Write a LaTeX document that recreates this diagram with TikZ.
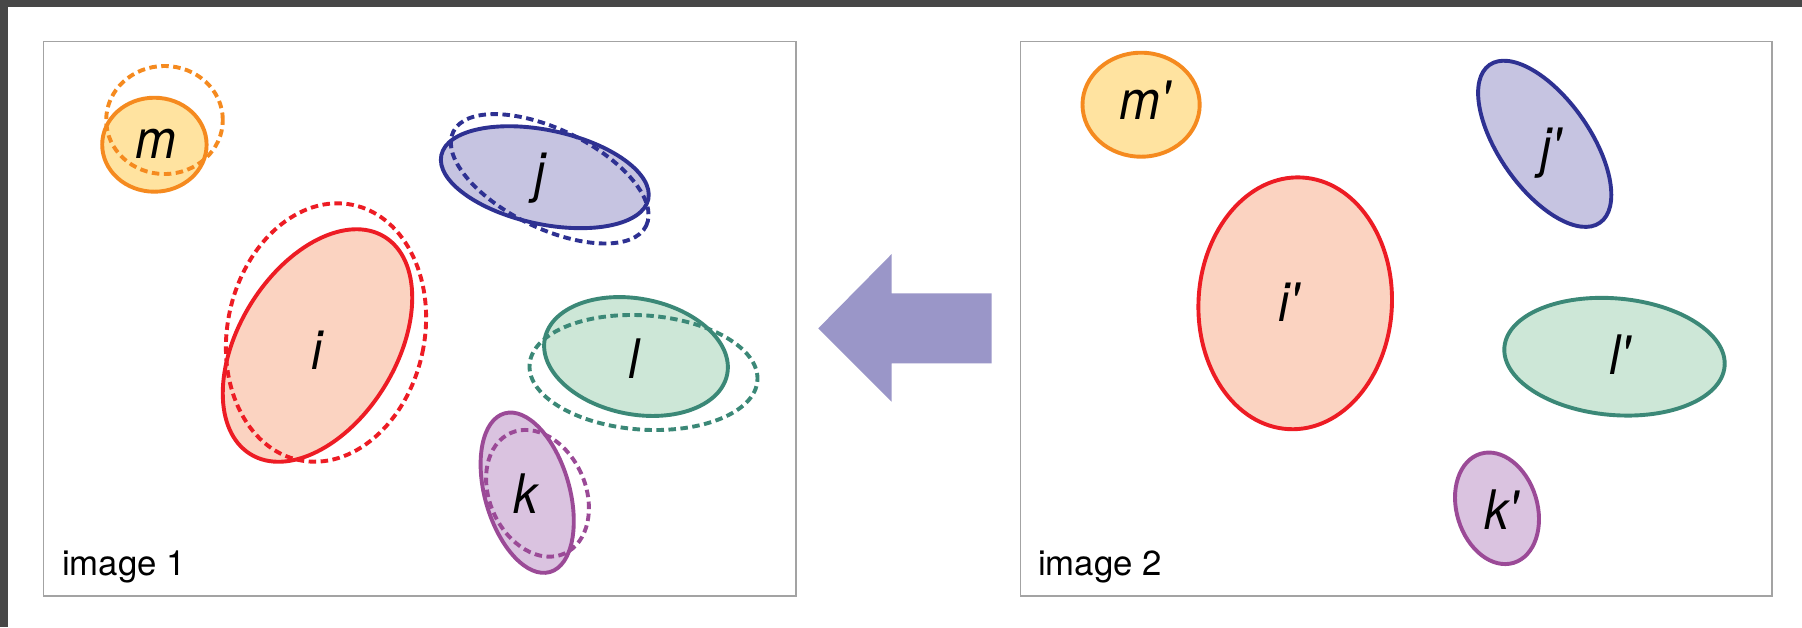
\documentclass[tikz,border=0pt]{standalone}
\usepackage{fontspec}
\setsansfont{TeX Gyre Heros}
\newfontfamily\labfont{TeX Gyre Heros}[FakeStretch=0.9]
\newcommand{\pr}{\XeTeXglyph\XeTeXglyphindex"quotesingle" }
\definecolor{framegray}{HTML}{474747}
\definecolor{panelgray}{HTML}{A3A3A3}
\definecolor{arrowfill}{HTML}{9A96C8}
\definecolor{mline}{HTML}{F58A1F}
\definecolor{mfill}{HTML}{FFE3A0}
\definecolor{jline}{HTML}{2E3192}
\definecolor{jfill}{HTML}{C6C4E1}
\definecolor{iline}{HTML}{ED1C24}
\definecolor{ifill}{HTML}{FBD3C1}
\definecolor{lline}{HTML}{3B8877}
\definecolor{lfill}{HTML}{CDE7D7}
\definecolor{kline}{HTML}{9B4A97}
\definecolor{kfill}{HTML}{DAC3E0}
\begin{document}
\begin{tikzpicture}[x=0.02cm,y=0.02cm,
  panel/.style={draw=panelgray, line width=0.03cm, fill=white},
  ring/.style={line width=0.078cm},
  dashring/.style={line width=0.078cm, dash pattern=on 0.15cm off 0.09cm},
  lab/.style={inner sep=0pt, font=\labfont\fontsize{31}{31}\selectfont\itshape},
  caption/.style={inner sep=0pt, anchor=base west, font=\sffamily\fontsize{19.8}{20}\selectfont}]
% canvas and dark frame
\fill[framegray] (0,0) rectangle (1802,-627);
\fill[white] (8.3,-6.7) rectangle (1802,-627);
\useasboundingbox (0,0) rectangle (1802,-627);

% panels
\draw[panel] (43.5,-41.7) rectangle (796,-596);
\draw[panel] (1020.6,-41.7) rectangle (1772,-596);

% transfer arrow
\fill[arrowfill] (818.3,-328.3) -- (891.7,-254) -- (891.7,-293.3) -- (991.7,-293.3)
  -- (991.7,-363.3) -- (891.7,-363.3) -- (891.7,-401.7) -- cycle;

% image 1: regions
\filldraw[ring, draw=mline, fill=mfill] (154.4,-144.7) ellipse [x radius=52.2, y radius=47];
\draw[dashring, mline] (164.5,-120) ellipse [x radius=58.3, y radius=54];

\filldraw[ring, draw=jline, fill=jfill, rotate around={-12:(544.8,-177.2)}] (544.8,-177.2) ellipse [x radius=105.8, y radius=47];
\draw[dashring, jline, rotate around={-26:(549.7,-178.8)}] (549.7,-178.8) ellipse [x radius=107.3, y radius=49.4];

\filldraw[ring, draw=iline, fill=ifill, rotate around={-31.7:(317.5,-345.5)}] (317.5,-345.5) ellipse [x radius=78.6, y radius=127.7];
\draw[dashring, iline, rotate around={-12:(326,-332.5)}] (326,-332.5) ellipse [x radius=98.5, y radius=130.4];

\filldraw[ring, draw=lline, fill=lfill, rotate around={-11:(636,-356.5)}] (636,-356.5) ellipse [x radius=92.9, y radius=57.8];
\draw[dashring, lline, rotate around={-4:(643.5,-372.5)}] (643.5,-372.5) ellipse [x radius=114.2, y radius=57.1];

\filldraw[ring, draw=kline, fill=kfill, rotate around={16:(527.2,-492.7)}] (527.2,-492.7) ellipse [x radius=42.3, y radius=82.5];
\draw[dashring, kline, rotate around={24:(537.5,-493.3)}] (537.5,-493.3) ellipse [x radius=48, y radius=66];

\node[lab] (m) at (155.8,-143.8) {m};
\node[lab] (j) at (539.6,-178.3) {j};
\node[lab] (i) at (317,-350) {i};
\node[lab] (l) at (633.7,-359) {l};
\node[lab] (k) at (526,-493.3) {k};
\node[caption] (cap1) at (61.7,-575) {image 1};

% image 2: regions
\filldraw[ring, draw=mline, fill=mfill] (1141.1,-104.7) ellipse [x radius=58.6, y radius=52];
\filldraw[ring, draw=jline, fill=jfill, rotate around={35:(1544.7,-143.8)}] (1544.7,-143.8) ellipse [x radius=45.4, y radius=96.3];
\filldraw[ring, draw=iline, fill=ifill, rotate around={-3:(1295.2,-303.3)}] (1295.2,-303.3) ellipse [x radius=96.7, y radius=126];
\filldraw[ring, draw=lline, fill=lfill, rotate around={-5:(1614.5,-356.7)}] (1614.5,-356.7) ellipse [x radius=110.5, y radius=58.3];
\filldraw[ring, draw=kline, fill=kfill, rotate around={17:(1497,-508.3)}] (1497,-508.3) ellipse [x radius=40.3, y radius=57];

\node[lab] (m2) at (1144.8,-99.7) {m\pr};
\node[lab] (j2) at (1551.6,-153.3) {j\pr};
\node[lab] (i2) at (1288.9,-302.5) {i\pr};
\node[lab] (l2) at (1619.8,-354.2) {l\pr};
\node[lab] (k2) at (1501.9,-510) {k\pr};
\node[caption] (cap2) at (1037.8,-575) {image 2};
\end{tikzpicture}
\end{document}
